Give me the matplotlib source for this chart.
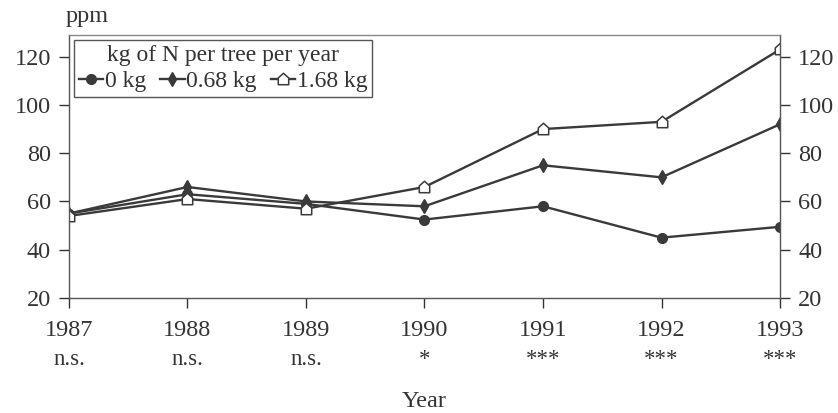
import numpy as np
import matplotlib
matplotlib.use("Agg")
import matplotlib.pyplot as plt
from matplotlib.path import Path
from matplotlib.transforms import blended_transform_factory

plt.rcParams['font.family'] = ['Liberation Serif', 'DejaVu Serif']

years = [1987, 1988, 1989, 1990, 1991, 1992, 1993]
n_0 = [55, 63, 59, 52.5, 58, 45, 49.5]
n_068 = [55, 66, 60, 58, 75, 70, 92]
n_168 = [54, 61, 57, 66, 90, 93, 123]
signif = ['n.s.', 'n.s.', 'n.s.', '*', '***', '***', '***']
series_labels = ['0 kg', '0.68 kg', '1.68 kg']

# open "house" marker: square with a pointed roof
house = Path([(-1, -1), (1, -1), (1, 0.3), (0, 1.2), (-1, 0.3), (-1, -1)],
             [Path.MOVETO, Path.LINETO, Path.LINETO, Path.LINETO, Path.LINETO, Path.CLOSEPOLY])

ink = '#3a3a3a'
txt = '#333333'
fs = 17.5
fig = plt.figure(figsize=(8.38, 4.13), dpi=100)
ax = fig.add_axes([0.0823, 0.2785, 0.8485, 0.6368])

ax.plot(years, n_0, color=ink, lw=1.7, marker='o', ms=7, mfc=ink, mec=ink, label=series_labels[0])
ax.plot(years, n_068, color=ink, lw=1.7, marker='d', ms=7, mfc=ink, mec=ink, label=series_labels[1])
ax.plot(years, n_168, color=ink, lw=1.7, marker=house, ms=9, mfc='white', mec=ink, mew=1.1,
        label=series_labels[2])

ax.set_xlim(1987, 1993)
ax.set_ylim(20, 129)
ax.set_xticks(years)
ax.set_yticks(range(20, 121, 20))
ax.tick_params(axis='both', labelsize=fs, colors=txt, length=7, width=1, direction='out')
ax.tick_params(axis='y', pad=6, right=True, labelright=True)
ax.tick_params(axis='x', pad=9)
for s in ax.spines.values():
    s.set_color('#555555')
    s.set_linewidth(1)
ax.spines['top'].set_color('#888888')

ax.text(-0.005, 1.03, 'ppm', transform=ax.transAxes, fontsize=fs, color=txt, ha='left', va='bottom')

tr = blended_transform_factory(ax.transData, ax.transAxes)
for yr, s in zip(years, signif):
    ax.text(yr, -0.235, s, transform=tr, ha='center', va='center', fontsize=fs - 1, color=txt)

ax.set_xlabel('Year', fontsize=fs, color=txt, labelpad=36)

leg = ax.legend(title='kg of N per tree per year', ncol=3, loc='upper left',
                bbox_to_anchor=(0.007, 0.98), borderaxespad=0, fontsize=17, title_fontsize=17,
                handlelength=1.05, handletextpad=0.05, columnspacing=0.6,
                borderpad=0.2, labelspacing=0.2, fancybox=False, framealpha=1)
leg.get_frame().set_edgecolor('#555555')
leg.get_frame().set_linewidth(1)
for t in leg.get_texts():
    t.set_color(txt)
leg.get_title().set_color(txt)

fig.savefig('out.png', dpi=100)
